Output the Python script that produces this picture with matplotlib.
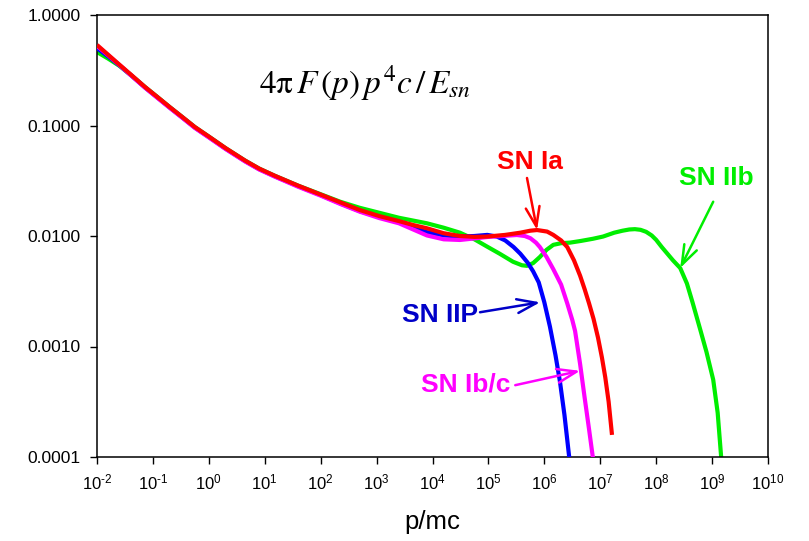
import numpy as np
import matplotlib
matplotlib.use("Agg")
import matplotlib.pyplot as plt
from matplotlib.ticker import FixedLocator, NullLocator

plt.rcParams['font.family'] = ['Liberation Sans', 'DejaVu Sans']
plt.rcParams['mathtext.fontset'] = 'custom'
plt.rcParams['mathtext.rm'] = 'Liberation Sans'
plt.rcParams['mathtext.it'] = 'Liberation Sans:italic'
plt.rcParams['mathtext.bf'] = 'Liberation Sans:bold'

# log10(p/mc) and log10(4 pi F(p) p^4 c / E_sn) for each supernova type
ia_logp = [-2.0, -1.8, -1.6, -1.37, -1.14, -0.92, -0.7, -0.47, -0.25, 0.0, 0.3,
           0.65, 0.9, 1.18, 1.6, 2.0, 2.35, 2.7, 3.05, 3.4, 3.65, 3.9, 4.2, 4.49,
           4.75, 4.98, 5.3, 5.57, 5.75, 5.87, 6.05, 6.16, 6.3, 6.41, 6.53, 6.64,
           6.72, 6.8, 6.88, 6.96, 7.03, 7.09, 7.15, 7.21]
ia_logf = [-0.271, -0.36, -0.449, -0.55, -0.652, -0.742, -0.833, -0.925, -1.014,
           -1.10, -1.205, -1.318, -1.39, -1.455, -1.545, -1.625, -1.695, -1.765,
           -1.82, -1.865, -1.90, -1.93, -1.975, -2.0, -2.008, -2.005, -1.99, -1.97,
           -1.952, -1.946, -1.96, -1.99, -2.04, -2.10, -2.22, -2.36, -2.48, -2.61,
           -2.75, -2.92, -3.10, -3.28, -3.50, -3.80]

iip_logp = [-2.0, -1.8, -1.6, -1.37, -1.14, -0.92, -0.7, -0.47, -0.25, 0.0, 0.3,
            0.65, 0.9, 1.18, 1.6, 2.0, 2.35, 2.7, 3.05, 3.4, 3.65, 3.9, 4.2, 4.49,
            4.75, 4.98, 5.15, 5.3, 5.45, 5.57, 5.7, 5.8, 5.9, 6.0, 6.1, 6.2, 6.28,
            6.36, 6.44, 6.46]
iip_logf = [-0.30, -0.375, -0.455, -0.555, -0.657, -0.747, -0.838, -0.93, -1.019,
            -1.105, -1.21, -1.323, -1.395, -1.46, -1.55, -1.63, -1.705, -1.775,
            -1.83, -1.875, -1.925, -1.965, -1.995, -2.005, -2.0, -1.99, -2.005,
            -2.04, -2.10, -2.16, -2.24, -2.32, -2.42, -2.60, -2.82, -3.08, -3.32,
            -3.62, -3.98, -4.06]

ibc_logp = [-2.0, -1.8, -1.6, -1.37, -1.14, -0.92, -0.7, -0.47, -0.25, 0.0, 0.3,
            0.65, 0.9, 1.18, 1.6, 2.0, 2.35, 2.7, 3.05, 3.4, 3.65, 3.9, 4.2, 4.49,
            4.75, 4.98, 5.3, 5.51, 5.65, 5.75, 5.85, 5.92, 6.04, 6.16, 6.3, 6.41,
            6.5, 6.55, 6.64, 6.72, 6.8, 6.88]
ibc_logf = [-0.28, -0.365, -0.452, -0.556, -0.658, -0.75, -0.84, -0.932, -1.022,
            -1.108, -1.213, -1.326, -1.398, -1.463, -1.555, -1.635, -1.71, -1.78,
            -1.838, -1.885, -1.94, -1.995, -2.03, -2.036, -2.022, -2.009, -1.998,
            -1.991, -2.0, -2.02, -2.06, -2.10, -2.19, -2.30, -2.44, -2.61, -2.76,
            -2.86, -3.16, -3.46, -3.75, -4.05]

iib_logp = [-2.0, -1.8, -1.6, -1.37, -1.14, -0.92, -0.7, -0.47, -0.25, 0.0, 0.3,
            0.65, 0.9, 1.18, 1.6, 2.0, 2.35, 2.7, 3.05, 3.4, 3.65, 3.9, 4.2, 4.49,
            4.75, 4.98, 5.2, 5.44, 5.6, 5.69, 5.8, 5.92, 6.04, 6.16, 6.3, 6.46,
            6.65, 6.87, 7.05, 7.25, 7.4, 7.52, 7.62, 7.72, 7.82, 7.92, 8.0, 8.1,
            8.2, 8.3, 8.43, 8.55, 8.65, 8.79, 8.9, 9.02, 9.1, 9.17]
iib_logf = [-0.335, -0.395, -0.46, -0.553, -0.652, -0.742, -0.833, -0.925, -1.014,
            -1.10, -1.205, -1.318, -1.39, -1.455, -1.545, -1.622, -1.69, -1.745,
            -1.79, -1.835, -1.86, -1.885, -1.925, -1.97, -2.03, -2.097, -2.16,
            -2.233, -2.265, -2.27, -2.245, -2.19, -2.125, -2.08, -2.065, -2.06,
            -2.045, -2.025, -2.005, -1.97, -1.952, -1.941, -1.938, -1.944, -1.962,
            -1.995, -2.035, -2.10, -2.16, -2.22, -2.29, -2.43, -2.60, -2.85, -3.05,
            -3.30, -3.60, -4.05]

x_ticks = [1e-2, 1e-1, 1e0, 1e1, 1e2, 1e3, 1e4, 1e5, 1e6, 1e7, 1e8, 1e9, 1e10]
x_tick_labels = [r'$10^{\text{-2}}$', r'$10^{\text{-1}}$', r'$10^{0}$', r'$10^{1}$',
                 r'$10^{2}$', r'$10^{3}$', r'$10^{4}$', r'$10^{5}$', r'$10^{6}$',
                 r'$10^{7}$', r'$10^{8}$', r'$10^{9}$', r'$10^{10}$']
y_ticks = [1e-4, 1e-3, 1e-2, 1e-1, 1e0]
y_tick_labels = ['0.0001', '0.0010', '0.0100', '0.1000', '1.0000']

GREEN = '#00ee00'
MAGENTA = '#ff00ff'
BLUE = '#0000ff'
RED = '#ff0000'
LABEL_BLUE = '#0000c8'

fig = plt.figure(figsize=(8.09, 5.41), dpi=100)
ax = fig.add_axes([97 / 809, 1 - 457 / 541, (768 - 97) / 809, (457 - 15) / 541])


def pw(v):
    return np.power(10.0, np.asarray(v))


style = dict(lw=3.0, solid_capstyle='butt', solid_joinstyle='round')
ax.plot(pw(iib_logp), pw(iib_logf), color=GREEN, zorder=2, **style)
ax.plot(pw(iip_logp), pw(iip_logf), color=BLUE, zorder=3, **style)
ax.plot(pw(ibc_logp), pw(ibc_logf), color=MAGENTA, zorder=4, **style)
ax.plot(pw(ia_logp), pw(ia_logf), color=RED, zorder=5, **style)

ax.set_xscale('log')
ax.set_yscale('log')
ax.set_xlim(1e-2, 1e10)
ax.set_ylim(1e-4, 1.0)

ax.xaxis.set_major_locator(FixedLocator(x_ticks))
ax.xaxis.set_minor_locator(NullLocator())
ax.set_xticklabels(x_tick_labels)
ax.yaxis.set_major_locator(FixedLocator(y_ticks))
ax.yaxis.set_minor_locator(NullLocator())
ax.set_yticklabels(y_tick_labels)

ax.tick_params(axis='x', which='major', direction='out', length=5, width=1.0,
               labelsize=12, pad=6)
ax.tick_params(axis='y', which='major', direction='out', length=5, width=1.0,
               labelsize=12.5, pad=7)
for s in ax.spines.values():
    s.set_linewidth(1.1)

ax.set_xlabel('p/mc', fontsize=18.5, labelpad=13)

ax.text(0.40, 0.846, r'$\mathrm{4\pi}\,F\,(p)\,p^4c\,/\,E_{sn}$', transform=ax.transAxes,
        fontsize=24, math_fontfamily='stix', ha='center', va='center')


def pointer(start, tip, color):
    ax.annotate('', xy=(10 ** tip[0], 10 ** tip[1]),
                xytext=(10 ** start[0], 10 ** start[1]),
                arrowprops=dict(arrowstyle='->,head_length=1.4,head_width=0.5',
                                color=color, lw=1.8, shrinkA=0, shrinkB=0),
                zorder=6)


label_kw = dict(fontsize=19, fontweight='bold', ha='center', va='center')

ax.text(10 ** 5.75, 10 ** -1.33, 'SN Ia', color=RED, **label_kw)
pointer((5.69, -1.475), (5.87, -1.946), RED)

ax.text(10 ** 9.07, 10 ** -1.475, 'SN IIb', color=GREEN, **label_kw)
pointer((9.02, -1.69), (8.43, -2.29), GREEN)

ax.text(10 ** 4.14, 10 ** -2.715, 'SN IIP', color=LABEL_BLUE, **label_kw)
pointer((4.85, -2.69), (5.925, -2.60), LABEL_BLUE)

ax.text(10 ** 4.60, 10 ** -3.34, 'SN Ib/c', color=MAGENTA, **label_kw)
pointer((5.48, -3.35), (6.64, -3.22), MAGENTA)

fig.savefig('out.png', dpi=100)
